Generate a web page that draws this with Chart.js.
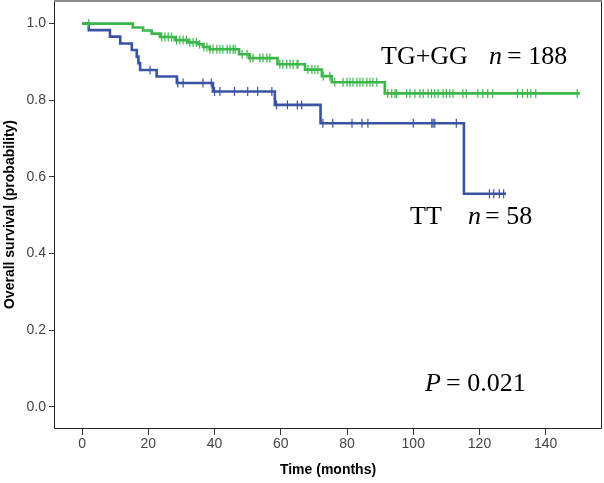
<!DOCTYPE html>
<html>
<head>
<meta charset="utf-8">
<script src="https://cdn.jsdelivr.net/npm/chart.js@4"></script>
<style>
  html, body { margin: 0; padding: 0; background: #fff; }
  #wrap { width: 604px; height: 483px; }
</style>
</head>
<body>
<div id="wrap"><canvas id="km"></canvas></div>
<script>
// TG+GG (n = 188) : event times and survival after each step
const greenTimes = [0, 15.3, 18.4, 21, 23.5, 28, 32, 35, 36.5, 38.5, 47.4, 50.5, 59, 67.3, 72.4, 75.4, 91.4];
const greenSurv  = [1.0, 0.99, 0.982, 0.974, 0.965, 0.957, 0.951, 0.946, 0.939, 0.933, 0.92, 0.91, 0.894, 0.88, 0.863, 0.847, 0.818];
const greenEnd = 150.3;
const greenCensored = [2, 24, 25, 26, 27, 28.5, 29.5, 30.5, 31.5, 32.5, 33.5, 34.5, 35.5, 36.8, 37.7, 38.6, 39.5, 40.7,
  41.6, 42.5, 43.8, 44.7, 45.6, 46.2, 48.3, 49.8, 50.7, 51.6, 53.7, 54.6, 55.8, 56.7, 59.7, 60.6, 61.8, 62.8, 63.7,
  64.9, 65.2, 68.2, 69.4, 70.3, 71.2, 72.8, 74.8, 76.3, 78.8, 80, 80.9, 81.8, 83, 83.9, 84.8, 86, 86.9, 87.8, 89,
  92.3, 93.5, 94.5, 95, 98, 99, 100.5, 102, 103, 104.5, 105.5, 106.5, 107.5, 109, 110, 111, 112, 115, 116, 119.5,
  121, 122.5, 124, 131.5, 133, 134.5, 135.5, 137, 149.5];

// TT (n = 58)
const blueTimes = [0, 2, 8.4, 11.5, 15, 16.5, 17, 17.5, 22.5, 28.6, 39.5, 58.2, 72, 115.3];
const blueSurv  = [1.0, 0.983, 0.966, 0.948, 0.931, 0.914, 0.897, 0.879, 0.862, 0.845, 0.823, 0.788, 0.74, 0.556];
const blueEnd = 128;
const blueCensored = [20.5, 28.9, 30.5, 36.5, 39, 40, 41.6, 46, 50, 53, 57.3, 58.7, 62, 65, 66.3, 72.7, 75.7, 81.5,
  84.5, 86.3, 100, 105.6, 106, 106.5, 113, 123, 124.3, 126, 127.3];

const xTicks = [0, 20, 40, 60, 80, 100, 120, 140];
const yTicks = [0, 0.2, 0.4, 0.6, 0.8, 1.0];

const green = 'rgb(58,183,72)';
const blue = 'rgb(58,82,164)';

function stepValue(times, surv, t) {
  let v = surv[0];
  for (let i = 0; i < times.length; i++) {
    if (times[i] <= t) v = surv[i];
  }
  return v;
}
function curve(times, surv, end) {
  const pts = times.map((t, i) => ({x: t, y: surv[i]}));
  pts.push({x: end, y: surv[surv.length - 1]});
  return pts;
}
function marks(times, surv, cens) {
  return cens.map(t => ({x: t, y: stepValue(times, surv, t)}));
}

const lineSet = (data, color) => ({
  data, showLine: true, stepped: true, borderColor: color, borderWidth: 2.6,
  pointRadius: 0, fill: false
});
const tickSet = (data, color) => ({
  data, showLine: false, pointStyle: 'line', rotation: 90, pointRadius: 4.5,
  borderColor: color, borderWidth: 1.2, backgroundColor: color
});

// frame + text labels
const decor = {
  id: 'decor',
  afterDraw(chart) {
    const {ctx, chartArea: a} = chart;
    ctx.save();
    ctx.strokeStyle = '#222';
    ctx.lineWidth = 1;
    ctx.beginPath();
    ctx.moveTo(a.left + 0.5, a.top);
    ctx.lineTo(a.left + 0.5, a.bottom + 0.5);
    ctx.lineTo(a.right - 0.5, a.bottom + 0.5);
    ctx.lineTo(a.right - 0.5, a.top);
    ctx.stroke();
    ctx.strokeStyle = '#888';
    ctx.lineWidth = 3;
    ctx.beginPath();
    ctx.moveTo(a.left, 0.5);
    ctx.lineTo(a.right, 0.5);
    ctx.stroke();

    ctx.fillStyle = '#000';
    ctx.textBaseline = 'alphabetic';
    ctx.textAlign = 'left';
    const up = '26px "Liberation Serif"';
    const it = 'italic 26px "Liberation Serif"';
    const put = (txt, x, y, f) => { ctx.font = f; ctx.fillText(txt, x, y); };
    put('TG+GG', 381, 64, up);
    put('n', 489, 64, it);
    put('= 188', 507, 64, up);
    put('TT', 410, 224, up);
    put('n', 468, 224, it);
    put('= 58', 485, 224, up);
    put('P', 425, 391, it);
    put('= 0.021', 446, 391, up);
    ctx.restore();
  }
};

const axisFont = {family: '"Liberation Sans", Arial, sans-serif', size: 14};
const titleFont = {family: '"Liberation Sans", Arial, sans-serif', size: 14, weight: 'bold'};

const noPad = s => { s.paddingTop = 0; s.paddingBottom = 0; s.paddingLeft = 0; s.paddingRight = 0; };

new Chart(document.getElementById('km'), {
  type: 'scatter',
  data: {
    datasets: [
      lineSet(curve(greenTimes, greenSurv, greenEnd), green),
      tickSet(marks(greenTimes, greenSurv, greenCensored), green),
      lineSet(curve(blueTimes, blueSurv, blueEnd), blue),
      tickSet(marks(blueTimes, blueSurv, blueCensored), blue)
    ]
  },
  options: {
    responsive: true,
    maintainAspectRatio: false,
    animation: false,
    devicePixelRatio: 1,
    layout: {autoPadding: false, padding: {top: 1, right: 2, left: 0, bottom: 0}},
    plugins: {legend: {display: false}, tooltip: {enabled: false}},
    scales: {
      x: {
        type: 'linear', min: -8.5, max: 157,
        afterFit: s => { s.height = 55; noPad(s); },
        afterBuildTicks: s => { s.ticks = xTicks.map(v => ({value: v})); },
        ticks: {font: axisFont, color: '#444', padding: 1, includeBounds: false},
        grid: {drawOnChartArea: false, tickLength: 7, color: '#333'},
        border: {display: false},
        title: {display: true, text: 'Time (months)', font: titleFont, color: '#000', padding: {top: 0, bottom: 4}}
      },
      y: {
        type: 'linear', min: -0.055, max: 1.059,
        afterFit: s => { s.width = 54; noPad(s); },
        afterBuildTicks: s => { s.ticks = yTicks.map(v => ({value: v})); },
        ticks: {font: axisFont, color: '#444', padding: 3, includeBounds: false, callback: v => v.toFixed(1)},
        grid: {drawOnChartArea: false, tickLength: 5, color: '#333'},
        border: {display: false},
        title: {display: true, text: 'Overall survival (probability)', font: titleFont, color: '#000', padding: {top: 2, bottom: 0}}
      }
    }
  },
  plugins: [decor]
});
</script>
</body>
</html>
